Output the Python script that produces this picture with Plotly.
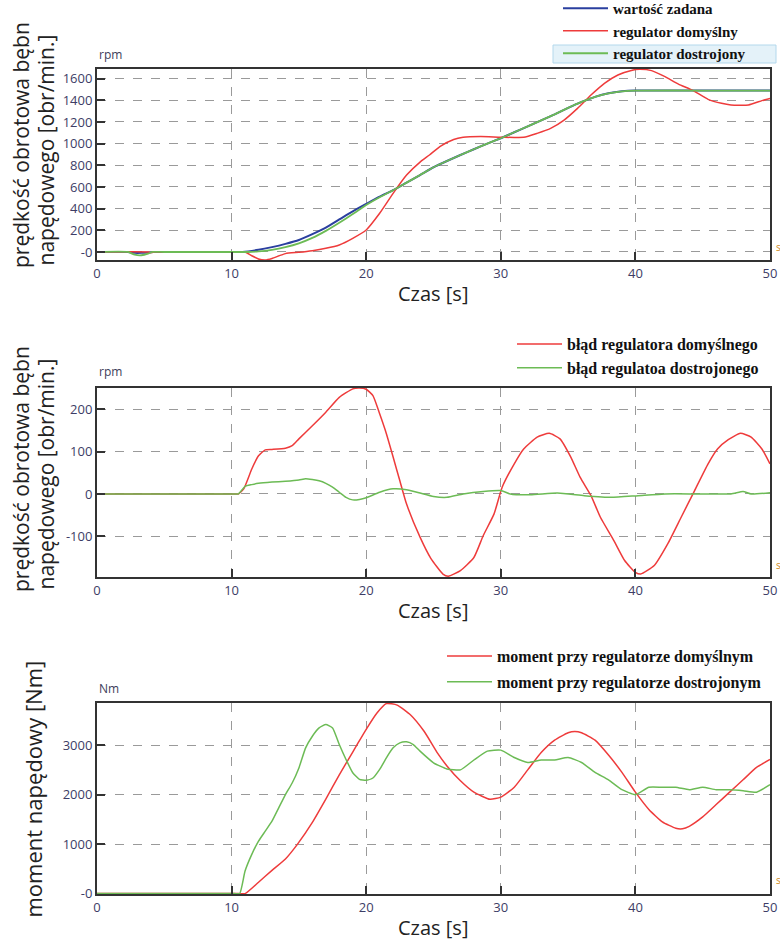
import plotly.graph_objects as go

W, H = 780, 945

# ---------------- data ----------------
# Panel 1: speed [rpm]
t_set = [0, 2.3, 2.8, 3.3, 3.8, 4.2, 5, 10.3, 10.8, 12, 13, 14, 15, 16, 17, 18, 19, 20, 21, 22, 23,
         24, 25, 26, 27, 28, 29, 30, 31, 32, 33, 34, 35, 36, 37, 38, 39, 40, 45, 50]
v_set = [0, 0, -8, -8, -5, 0, 0, 0, 0, 20, 45, 75, 111, 165, 225, 300, 375, 443, 510, 570, 640,
         710, 782, 840, 895, 948, 1000, 1050, 1105, 1160, 1215, 1270, 1330, 1385, 1432, 1465, 1483,
         1490, 1490, 1490]

t_def = [0, 3.8, 4.0, 4.3, 5, 10.5, 11, 11.5, 12, 12.5, 13, 14, 15, 16, 17, 18, 19, 20, 21, 22, 23,
         24, 24.7, 25.5, 26.5, 27.2, 28.5, 30, 31.7, 32.7, 33.7, 34.7, 35.7, 36.7, 37.7, 38.7, 39.7,
         40.3, 41.2, 42.2, 43.2, 44.3, 45.4, 46.4, 47.1, 48.4, 49.4, 50]
v_def = [0, 0, -6, 0, 0, 0, 0, -35, -65, -74, -60, -15, -3, 12, 34, 65, 126, 203, 357, 541, 710,
         830, 895, 975, 1038, 1058, 1065, 1060, 1058, 1095, 1141, 1218, 1326, 1449, 1557, 1634, 1676,
         1686, 1674, 1618, 1550, 1489, 1409, 1372, 1357, 1357, 1397, 1418]

t_tun = [0, 2.3, 2.8, 3.3, 3.8, 4.1, 5, 10.5, 11, 12, 13, 14, 15, 16, 17, 18, 19, 20, 21, 22, 23,
         24, 25, 26, 27, 28, 29, 30, 31, 32, 33, 34, 35, 36, 37, 38, 39, 40, 45, 50]
v_tun = [0, 0, -25, -30, -15, 0, 0, 0, 0, 5, 20, 45, 80, 130, 195, 270, 350, 434, 505, 570, 640,
         710, 782, 840, 895, 948, 1000, 1050, 1105, 1160, 1215, 1270, 1330, 1385, 1432, 1465, 1483,
         1490, 1490, 1490]

# Panel 2: speed error [rpm]
t_err_def = [0, 5, 10.0, 10.5, 10.9, 11.5, 12, 12.5, 13, 14, 14.5, 15, 16, 17, 18, 19, 19.5, 20, 20.5,
             21, 21.5, 22, 22.5, 23, 24, 24.8, 25.7, 26.1, 27, 28, 28.7, 29.5, 30.1, 31, 31.7, 32.7,
             33.6, 34.4, 35.2, 35.9, 36.7, 37.4, 38.4, 39.2, 40.0, 40.4, 41.4, 42.4, 43.4, 44.4, 45.4,
             46.1, 46.9, 47.8, 48.6, 49.4, 50]
v_err_def = [0, 0, 0, 0, 12, 59, 90, 104, 105, 108, 114, 130, 161, 193, 228, 248, 250, 247, 232,
             189, 142, 87, 31, -24, -102, -152, -189, -194, -181, -150, -98, -47, 16, 71, 106, 134,
             143, 130, 87, 39, -4, -55, -110, -157, -185, -189, -169, -118, -55, 8, 71,
             106, 128, 143, 134, 106, 71]

t_err_tun = [0, 5, 10.2, 10.5, 11, 11.5, 12, 13, 14, 15, 15.5, 16, 16.5, 17, 17.5, 18, 18.5, 19, 19.5,
             20, 21, 22, 23, 24, 25, 26, 27.2, 28.7, 30, 30.7, 32.2, 34.2, 36.2, 38.2, 40.2, 42.2, 44.6,
             47.1, 48, 48.6, 50]
v_err_tun = [0, 0, 0, 0, 18, 22, 25, 28, 30, 33, 36, 34, 31, 25, 16, 4, -8, -14, -13,
             -9, 4, 12, 10, 2, -6, -8, 0, 6, 8, 0, -2, 2, -4, -8, -4, 0, 0,
             0, 6, 0, 3]

# Panel 3: drive torque [Nm]
t_tq_def = [0, 5, 10.5, 11, 12, 13, 14, 14.9, 16, 17, 18, 19, 19.3, 20, 20.8, 21.5, 22.3, 23.3, 24.3,
            25.3, 26, 27, 28, 29.2, 30, 31, 32, 33, 34, 35, 35.5, 36, 37, 38, 39, 40, 41, 42, 43,
            43.5, 44, 45, 46, 47, 48, 49, 50]
v_tq_def = [0, 0, 0, 0, 230, 470, 700, 1000, 1440, 1910, 2400, 2860, 3000, 3320, 3650, 3840, 3810,
            3610, 3280, 2840, 2580, 2280, 2050, 1905, 1950, 2150, 2500, 2850, 3100, 3250, 3275, 3250,
            3100, 2800, 2450, 2050, 1700, 1450, 1320, 1310, 1360, 1550, 1800, 2050, 2300, 2550, 2710]

t_tq_tun = [0, 5, 10.2, 10.6, 11, 11.5, 12, 12.5, 13, 13.5, 14, 14.5, 15, 15.5, 16, 16.5, 17, 17.5,
            18, 18.5, 19, 19.5, 20, 20.5, 21, 21.5, 22, 22.5, 23, 23.5, 24, 25, 26, 27, 28, 29, 30,
            31, 32, 33, 34, 35, 36, 37, 38, 39, 40, 41, 42, 43, 44, 45, 46, 47, 48, 49, 50]
v_tq_tun = [0, 0, 0, 0, 456, 792, 1060, 1262, 1463, 1732, 2000, 2235, 2540, 2946, 3181, 3349, 3416,
            3349, 3013, 2711, 2443, 2309, 2289, 2336, 2510, 2745, 2946, 3047, 3067, 3013, 2879, 2644,
            2520, 2500, 2700, 2880, 2900, 2750, 2650, 2700, 2700, 2750, 2650, 2450, 2300, 2100, 2000,
            2150, 2150, 2150, 2100, 2150, 2100, 2100, 2080, 2050, 2200]

x_ticks = [0, 10, 20, 30, 40, 50]
y1_ticks = [0, 200, 400, 600, 800, 1000, 1200, 1400, 1600]
y1_text = ["-0", "200", "400", "600", "800", "1000", "1200", "1400", "1600"]
y2_ticks = [-100, 0, 100, 200]
y2_text = ["-100", "0", "100", "200"]
y3_ticks = [0, 1000, 2000, 3000]
y3_text = ["-0", "1000", "2000", "3000"]

# ---------------- style ----------------
BLUE = "#2a3f9f"
RED = "#ee3b3b"
GREEN = "#6cbb55"
FRAME = "#333333"
GRID = "#9a9a9a"
TICKC = "#3d3d66"

def px_y(p):
    return 1 - p / H

def px_x(p):
    return p / W

fig = go.Figure()

def add(x, y, color, name, xa, ya, legend, width=1.5, group=None):
    fig.add_trace(go.Scatter(x=x, y=y, mode="lines", name=name, xaxis=xa, yaxis=ya,
                             line=dict(color=color, width=width, shape="spline", smoothing=0.5),
                             legend=legend, legendgroup=group))

add(t_set, v_set, BLUE, "wartość zadana", "x", "y", "legend", 2.0)
add(t_def, v_def, RED, "regulator domyślny", "x", "y", "legend")
add(t_tun, v_tun, GREEN, "regulator dostrojony", "x", "y", "legend", 1.8)

add(t_err_def, v_err_def, RED, "błąd regulatora domyślnego", "x2", "y2", "legend2")
add(t_err_tun, v_err_tun, GREEN, "błąd regulatoa dostrojonego", "x2", "y2", "legend2")

add(t_tq_def, v_tq_def, RED, "moment przy regulatorze domyślnym", "x3", "y3", "legend3", group="a")
add(t_tq_tun, v_tq_tun, GREEN, "moment przy regulatorze dostrojonym", "x3", "y3", "legend3", group="b")

xdom = [px_x(97), px_x(770)]
panels = [  # (top px, bottom px)
    (69, 260),
    (388, 577),
    (703, 894),
]
yranges = [[-74, 1689], [-196, 250], [-8, 3852]]
yticks = [(y1_ticks, y1_text), (y2_ticks, y2_text), (y3_ticks, y3_text)]

tickfont = dict(family="Open Sans", size=13, color=TICKC)

layout = dict(
    width=W, height=H, margin=dict(l=0, r=0, t=0, b=0, autoexpand=False),
    paper_bgcolor="white", plot_bgcolor="white", showlegend=True,
)

for i, ((top, bot), yr, (tv, tt)) in enumerate(zip(panels, yranges, yticks)):
    sfx = "" if i == 0 else str(i + 1)
    anchor_y = "y" + sfx
    anchor_x = "x" + sfx
    layout["xaxis" + sfx] = dict(
        domain=xdom, anchor=anchor_y, range=[0, 50], tickvals=x_ticks,
        ticks="inside", ticklen=8, tickwidth=2, tickcolor=FRAME,
        showline=True, linecolor=FRAME, linewidth=2, mirror=True,
        showgrid=True, gridcolor=GRID, griddash="dash", gridwidth=1.2,
        zeroline=False, tickfont=tickfont, automargin=False,
    )
    layout["yaxis" + sfx] = dict(
        domain=[px_y(bot), px_y(top)], anchor=anchor_x, range=yr,
        tickvals=tv, ticktext=tt,
        ticks="inside", ticklen=8, tickwidth=2, tickcolor=FRAME,
        showline=True, linecolor=FRAME, linewidth=2, mirror=True,
        showgrid=True, gridcolor=GRID, griddash="dash", gridwidth=1.2,
        zeroline=False, tickfont=tickfont, automargin=False,
    )

legfont = dict(family="Liberation Serif", size=15, color="#111111", weight="bold")
layout["legend"] = dict(x=px_x(558), y=px_y(-8), xanchor="left", yanchor="top",
                        bgcolor="rgba(0,0,0,0)", font=legfont, itemwidth=45,
                        tracegroupgap=0)
layout["legend2"] = dict(x=px_x(512), y=px_y(327), xanchor="left", yanchor="top",
                         bgcolor="rgba(0,0,0,0)", font=dict(legfont, size=16), itemwidth=45)
layout["legend3"] = dict(x=px_x(442), y=px_y(639), xanchor="left", yanchor="top",
                         bgcolor="rgba(0,0,0,0)", font=dict(legfont, size=16), itemwidth=45,
                         tracegroupgap=2)

fig.update_layout(**layout)

# highlight box behind third legend item of panel 1
fig.add_shape(type="rect", xref="paper", yref="paper",
              x0=px_x(553), x1=px_x(776), y0=px_y(63), y1=px_y(45),
              fillcolor="#e4f2f9", line=dict(color="#b3d8ec", width=1), layer="below")

ann = []
titlefont = dict(family="Open Sans", size=20, color="#222222")
ytitlefont = dict(family="Open Sans", size=21, color="#222222")
for (top, bot) in panels:
    ann.append(dict(text="Czas [s]", x=px_x(433), y=px_y(bot + 33), xref="paper", yref="paper",
                    showarrow=False, font=titlefont, xanchor="center", yanchor="middle"))

unit_font = dict(family="Open Sans", size=12, color="#3d3d5a")
ann.append(dict(text="rpm", x=px_x(97), y=px_y(55), xref="paper", yref="paper", showarrow=False,
                font=unit_font, xanchor="left", yanchor="middle"))
ann.append(dict(text="rpm", x=px_x(97), y=px_y(371), xref="paper", yref="paper", showarrow=False,
                font=unit_font, xanchor="left", yanchor="middle"))
ann.append(dict(text="Nm", x=px_x(97), y=px_y(688), xref="paper", yref="paper", showarrow=False,
                font=unit_font, xanchor="left", yanchor="middle"))

# rotated y titles
for bottom, line1, line2 in [(270, "prędkość obrotowa bębn", "napędowego [obr/min.]"),
                             (594, "prędkość obrotowa bębn", "napędowego [obr/min.]")]:
    ann.append(dict(text=line1, x=px_x(21), y=px_y(bottom), xref="paper", yref="paper",
                    showarrow=False, textangle=-90, font=ytitlefont, xanchor="center",
                    yanchor="bottom"))
    ann.append(dict(text=line2, x=px_x(45), y=px_y(bottom - 2), xref="paper", yref="paper",
                    showarrow=False, textangle=-90, font=ytitlefont, xanchor="center",
                    yanchor="bottom"))
ann.append(dict(text="moment napędowy [Nm]", x=px_x(32), y=px_y(920), xref="paper", yref="paper",
                showarrow=False, textangle=-90, font=dict(ytitlefont, size=22), xanchor="center",
                yanchor="bottom"))

for yp in [247, 565, 880]:
    ann.append(dict(text="s", x=px_x(774), y=px_y(yp), xref="paper", yref="paper", showarrow=False,
                    font=dict(family="Open Sans", size=10, color="#d08a1c"), xanchor="left",
                    yanchor="middle"))

fig.update_layout(annotations=ann)
fig.write_html("out.html", config={"displayModeBar": False},
               post_script="document.body.style.margin='0';")
